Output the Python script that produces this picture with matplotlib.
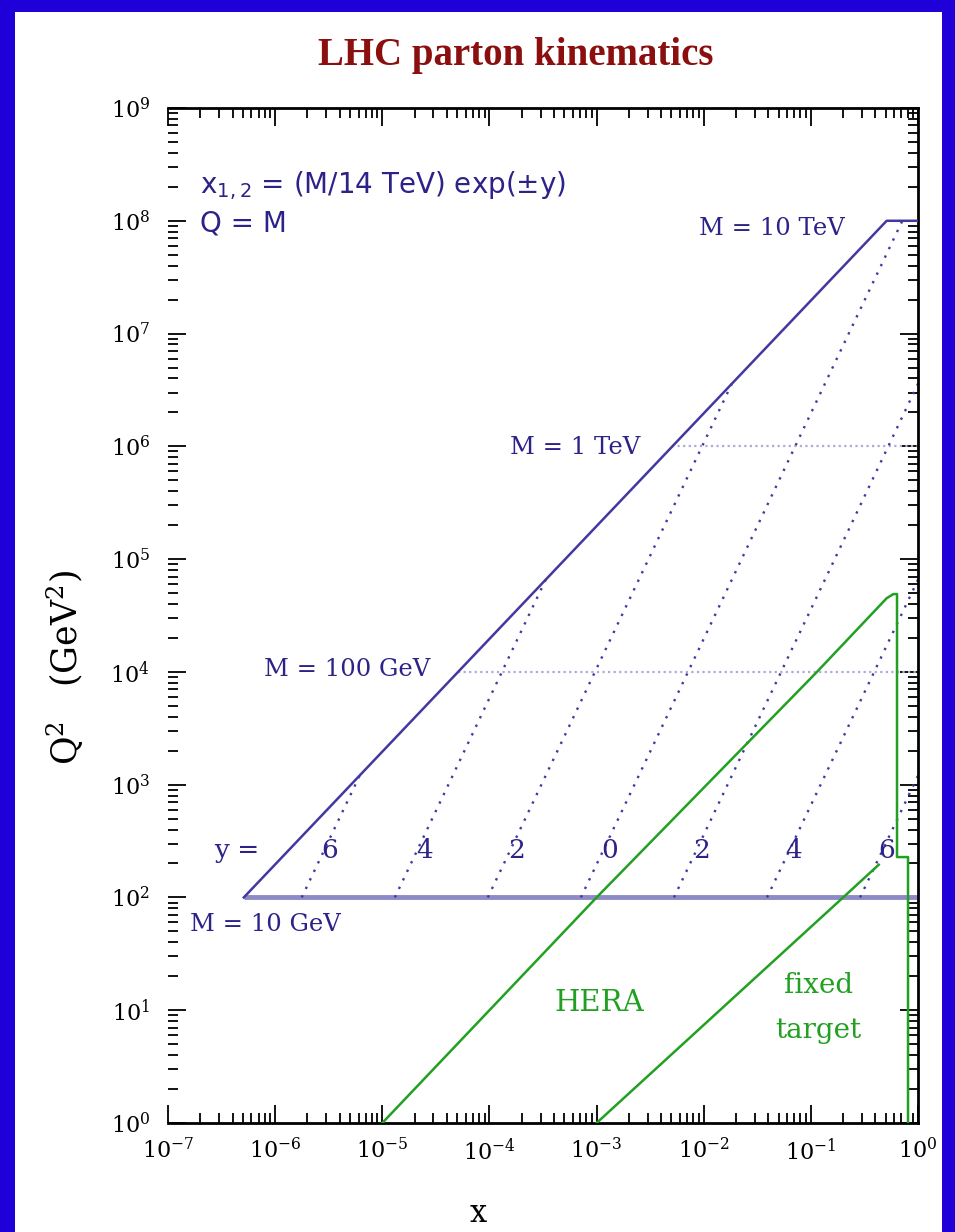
import matplotlib
matplotlib.use('Agg')
import numpy as np
import matplotlib.pyplot as plt
import matplotlib.patches as mpatches
from matplotlib.ticker import FixedLocator, FixedFormatter, NullFormatter

plt.rcParams['mathtext.default'] = 'regular'

# ---------------- data ----------------
# kinematic boundary (M line, Q = M, sqrt(s) = 14 TeV)
boundary_x = [5.1e-7, 0.51, 1.0]
boundary_q2 = [1e2, 1e8, 1e8]

# horizontal mass lines: M = 10 GeV (solid), 100 GeV and 1 TeV (dotted)
mass_q2 = [1e2, 1e4, 1e6]
mass_x_start = [5.1e-7, 5.1e-5, 5.1e-3]
mass_labels = ["M = 10 TeV", "M = 1 TeV", "M = 100 GeV", "M = 10 GeV"]

# constant-rapidity lines
rap_labels = ["6", "4", "2", "0", "2", "4", "6"]
rap_x_start = [1.77e-6, 1.31e-5, 9.66e-5, 7.14e-4, 5.28e-3, 3.9e-2, 0.288]
rap_q2_start = [1e2, 1e2, 1e2, 1e2, 1e2, 1e2, 1e2]
rap_x_end = [6.14e-6, 3.35e-4, 1.83e-2, 0.714, 1.0, 1.0, 1.0]
rap_q2_end = [1.2e3, 6.57e4, 3.59e6, 1e8, 3.59e6, 6.57e4, 1.2e3]
rap_label_x = [3.2e-6, 2.5e-5, 1.78e-4, 1.33e-3, 9.6e-3, 6.97e-2, 0.514]

# HERA region outline
hera_x = [1e-5, 1e-3, 0.114, 0.51, 0.59, 0.637, 0.637, 0.807, 0.807]
hera_q2 = [1.0, 1e2, 1e4, 4.5e4, 4.9e4, 4.9e4, 228, 228, 1.0]

# fixed target region edge
fixed_x = [1e-3, 0.2, 0.43]
fixed_q2 = [1.0, 1e2, 195]

x_ticks = [1e-7, 1e-6, 1e-5, 1e-4, 1e-3, 1e-2, 1e-1, 1e0]
x_ticklabels = [r'$\mathregular{10^{-7}}$', r'$\mathregular{10^{-6}}$', r'$\mathregular{10^{-5}}$',
                r'$\mathregular{10^{-4}}$', r'$\mathregular{10^{-3}}$', r'$\mathregular{10^{-2}}$',
                r'$\mathregular{10^{-1}}$', r'$\mathregular{10^{0}}$']
y_ticks = [1e0, 1e1, 1e2, 1e3, 1e4, 1e5, 1e6, 1e7, 1e8, 1e9]
y_ticklabels = [r'$\mathregular{10^{%d}}$' % i for i in range(10)]

# ---------------- styling ----------------
BLUE_BG = '#1f00d8'
NAVY = '#2c2288'
LINE = '#4338a0'
LAV = '#8e8ac6'
LAV2 = '#aeaad6'
GREEN = '#22a022'
SERIF = 'DejaVu Serif'
TSERIF = 'Liberation Serif'
SANS = 'DejaVu Sans'

fig = plt.figure(figsize=(9.55, 12.32), dpi=100)
fig.patch.set_facecolor(BLUE_BG)
fig.add_artist(mpatches.Rectangle((15 / 955, 0), (942 - 15) / 955, (1232 - 12) / 1232,
                                  transform=fig.transFigure, facecolor='white',
                                  edgecolor='none', zorder=0))

ax = fig.add_axes([168 / 955, 109 / 1232, 750 / 955, 1015 / 1232])
ax.set_facecolor('white')
ax.set_xscale('log')
ax.set_yscale('log')
ax.set_xlim(1e-7, 1)
ax.set_ylim(1, 1e9)

# lines
ax.plot(boundary_x, boundary_q2, color=LINE, lw=1.8, zorder=3)
ax.plot([mass_x_start[0], 1.0], [mass_q2[0], mass_q2[0]], color=LAV, lw=3.5,
        solid_capstyle='butt', zorder=2)
for xs, q in zip(mass_x_start[1:], mass_q2[1:]):
    ax.plot([xs, 1.0], [q, q], color=LAV2, lw=1.6, ls=(0, (1, 1.5)), zorder=2)
for xs, qs, xe, qe in zip(rap_x_start, rap_q2_start, rap_x_end, rap_q2_end):
    ax.plot([xs, xe], [qs, qe], color=LINE, lw=1.7, ls=(0, (1, 3)), zorder=2)
ax.plot(hera_x, hera_q2, color=GREEN, lw=1.8, zorder=4)
ax.plot(fixed_x, fixed_q2, color=GREEN, lw=1.8, zorder=4)

# texts
ax.text(2.0e-7, 2.05e8, r'x$_{1,2}$ = (M/14 TeV) exp(±y)', family=SANS, fontsize=20,
        color=NAVY, ha='left', va='center')
ax.text(2.0e-7, 0.95e8, 'Q = M', family=SANS, fontsize=20, color=NAVY,
        ha='left', va='center')
ax.text(0.208, 8.6e7, mass_labels[0], family=SERIF, fontsize=17.5, color=NAVY,
        ha='right', va='center')
ax.text(2.55e-3, 9.8e5, mass_labels[1], family=SERIF, fontsize=17.5, color=NAVY,
        ha='right', va='center')
ax.text(2.79e-5, 1.04e4, mass_labels[2], family=SERIF, fontsize=17.5, color=NAVY,
        ha='right', va='center')
ax.text(1.6e-7, 57, mass_labels[3], family=SERIF, fontsize=17.5, color=NAVY,
        ha='left', va='center')
ax.text(4.4e-7, 260, 'y =', family=SERIF, fontsize=19, color=NAVY,
        ha='center', va='center')
for lx, lab in zip(rap_label_x, rap_labels):
    ax.text(lx, 260, lab, family=SERIF, fontsize=19, color=NAVY,
            ha='center', va='center')
ax.text(1.07e-3, 11.6, 'HERA', family=SERIF, fontsize=21, color=GREEN,
        ha='center', va='center')
ax.text(0.117, 16.5, 'fixed', family=SERIF, fontsize=20, color=GREEN,
        ha='center', va='center')
ax.text(0.117, 6.6, 'target', family=SERIF, fontsize=20, color=GREEN,
        ha='center', va='center')

# axes / ticks
ax.xaxis.set_major_locator(FixedLocator(x_ticks))
ax.xaxis.set_major_formatter(FixedFormatter(x_ticklabels))
ax.yaxis.set_major_locator(FixedLocator(y_ticks))
ax.yaxis.set_major_formatter(FixedFormatter(y_ticklabels))
minor_x = [m * d for d in x_ticks[:-1] for m in range(2, 10)]
minor_y = [m * d for d in y_ticks[:-1] for m in range(2, 10)]
ax.xaxis.set_minor_locator(FixedLocator(minor_x))
ax.yaxis.set_minor_locator(FixedLocator(minor_y))
ax.xaxis.set_minor_formatter(NullFormatter())
ax.yaxis.set_minor_formatter(NullFormatter())
ax.tick_params(which='both', direction='in', top=True, right=True, left=True,
               bottom=True, color='black')
ax.tick_params(which='major', length=13, width=1.3, labelsize=16)
ax.tick_params(axis='y', which='major', pad=13)
ax.tick_params(axis='x', which='major', pad=11)
ax.tick_params(which='minor', length=7, width=1.3)
for lab in ax.get_xticklabels() + ax.get_yticklabels():
    lab.set_family(SERIF)
for s in ['top', 'bottom', 'right']:
    ax.spines[s].set_linewidth(2.0)
ax.spines['left'].set_visible(False)

ax.set_ylabel(r'Q$^2$   (GeV$^2$)', family=SERIF, fontsize=25)
ax.yaxis.set_label_coords((86 - 168) / 750, (1123 - 668) / 1015)

fig.text(478 / 955, 1 - 1213 / 1232, 'x', family=SERIF, fontsize=22,
         color='black', ha='center', va='center')

fig.text(516 / 955, 1 - 55 / 1232, 'LHC parton kinematics', family=TSERIF,
         fontsize=28, fontweight='bold', color='#8b0f0f', ha='center', va='center')

fig.savefig('out.png', dpi=100, facecolor=fig.get_facecolor())
